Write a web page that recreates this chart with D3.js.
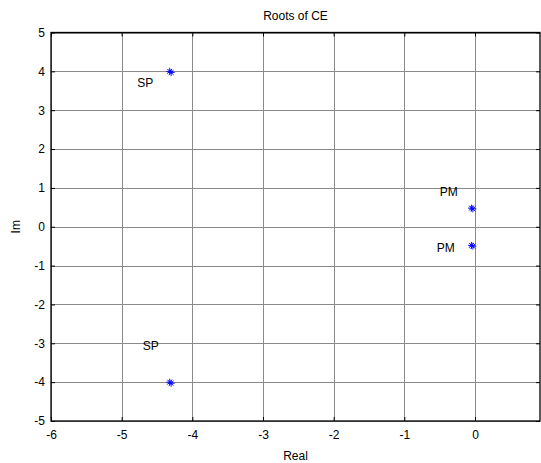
<!DOCTYPE html>
<html><head><meta charset="utf-8">
<script src="https://cdn.jsdelivr.net/npm/d3@7"></script>
<style>body{margin:0;background:#fff}svg{display:block;font-family:"Liberation Sans",Arial,sans-serif}</style>
</head><body>
<svg id="c" width="541" height="463"></svg>
<script>
const xTicks = [-6,-5,-4,-3,-2,-1,0];
const yTicks = [-5,-4,-3,-2,-1,0,1,2,3,4,5];
const rootsRe = [-4.32,-4.32,-0.05,-0.05];
const rootsIm = [4.0,-4.0,0.48,-0.48];
const rootsRe2 = [-4.30,-4.30,-0.03,-0.03];
const rootsIm2 = [3.97,-4.03,0.46,-0.50];
const labelText = ["SP","SP","PM","PM"];
const labelX = [-4.78,-4.70,-0.50,-0.54];
const labelY = [3.7,-3.07,0.91,-0.55];

const svg = d3.select("#c");
const L=51, T=32.5, R=540, B=421;
const x = d3.scaleLinear().domain([-6,0.92]).range([L,R]);
const y = d3.scaleLinear().domain([-5,5]).range([B,T]);

const g = svg.append("g");
g.selectAll("line.gx").data(xTicks).join("line")
  .attr("x1",d=>Math.round(x(d))+0.5).attr("x2",d=>Math.round(x(d))+0.5)
  .attr("y1",T).attr("y2",B).attr("stroke","#8a8a8a").attr("stroke-width",1);
g.selectAll("line.gy").data(yTicks).join("line")
  .attr("y1",d=>Math.round(y(d))+0.5).attr("y2",d=>Math.round(y(d))+0.5)
  .attr("x1",L).attr("x2",R).attr("stroke","#8a8a8a").attr("stroke-width",1);

const fmt = d=>String(d);
const ax = d3.axisBottom(x).tickValues(xTicks).tickSize(-4).tickPadding(9).tickFormat(fmt);
const ay = d3.axisLeft(y).tickValues(yTicks).tickSize(-4).tickPadding(6).tickFormat(fmt);
const ax2 = d3.axisTop(x).tickValues(xTicks).tickSize(-4).tickFormat("");
const ay2 = d3.axisRight(y).tickValues(yTicks).tickSize(-4).tickFormat("");
function style(sel){
  sel.select(".domain").remove();
  sel.selectAll(".tick line").attr("stroke","#000");
  sel.selectAll(".tick text").attr("fill","#000").style("font-size","12px");
}
svg.append("g").attr("transform",`translate(0,${B})`).call(ax).call(style);
svg.append("g").attr("transform",`translate(${L},0)`).call(ay).call(style);
svg.append("g").attr("transform",`translate(0,${T})`).call(ax2).call(style);
svg.append("g").attr("transform",`translate(${R},0)`).call(ay2).call(style);

svg.append("rect").attr("x",L).attr("y",T).attr("width",R-L).attr("height",B-T)
  .attr("fill","none").attr("stroke","#000").attr("stroke-width",1.3);

function star(sel, xs, ys, s){
  const pts = xs.map((v,i)=>[x(v),y(ys[i])]);
  const gg = sel.selectAll(null).data(pts).join("g").attr("transform",d=>`translate(${d[0]},${d[1]})`);
  gg.append("path").attr("d",`M${-s},0H${s}M0,${-s}V${s}M${-s*0.7},${-s*0.7}L${s*0.7},${s*0.7}M${-s*0.7},${s*0.7}L${s*0.7},${-s*0.7}`)
    .attr("stroke","#0000ff").attr("stroke-width",0.9).attr("fill","none");
}
const mg = svg.append("g");
star(mg, rootsRe, rootsIm, 3.5);
star(mg, rootsRe2, rootsIm2, 3.5);

svg.selectAll("text.lbl").data(labelText).join("text").attr("class","lbl")
  .attr("x",(d,i)=>x(labelX[i])).attr("y",(d,i)=>y(labelY[i]))
  .attr("dy","0.35em").style("font-size","12px").attr("fill","#000").text(d=>d);

svg.append("text").attr("x",(L+R)/2).attr("y",20).attr("text-anchor","middle")
  .style("font-size","12px").text("Roots of CE");
svg.append("text").attr("x",(L+R)/2).attr("y",460).attr("text-anchor","middle")
  .style("font-size","12px").text("Real");
svg.append("text").attr("transform",`translate(20,${(T+B)/2}) rotate(-90)`).attr("text-anchor","middle")
  .style("font-size","12px").text("Im");
</script>
</body></html>
